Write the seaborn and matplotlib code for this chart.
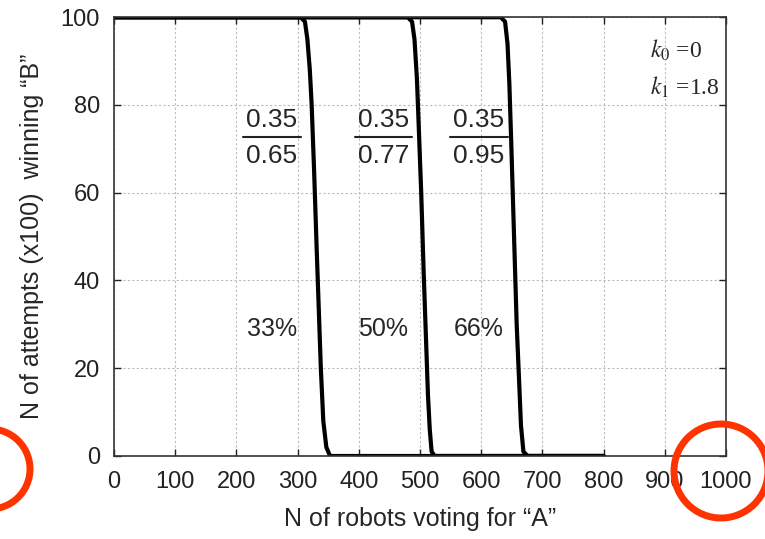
import numpy as np
import pandas as pd
import matplotlib
matplotlib.use("Agg")
import matplotlib.pyplot as plt
import seaborn as sns
from matplotlib.patches import Circle

# Curves: N of robots voting "A" vs attempts winning "B"
x_33 = [0, 305, 312, 316, 320, 323, 327, 331, 335, 338, 342, 347, 353, 800]
y_33 = [100, 100, 99, 95, 88, 80, 65, 48, 32, 20, 8, 2, 0, 0]
x_50 = [0, 480, 487, 491, 495, 498, 502, 506, 510, 513, 516, 519, 524, 800]
y_50 = [100, 100, 99, 95, 86, 75, 60, 42, 26, 14, 6, 1, 0, 0]
x_66 = [0, 632, 639, 643, 646, 649, 652, 655, 658, 662, 665, 669, 676, 800]
y_66 = [100, 100, 99, 94, 85, 72, 58, 44, 30, 17, 7, 1, 0, 0]

fractions = [("0.35", "0.65"), ("0.35", "0.77"), ("0.35", "0.95")]
percents = ["33%", "50%", "66%"]
label_x = [258, 440, 596]

rows = []
for name, xs, ys in [("33%", x_33, y_33), ("50%", x_50, y_50), ("66%", x_66, y_66)]:
    for a, b in zip(xs, ys):
        rows.append({"robots": a, "attempts": b, "ratio": name})
df = pd.DataFrame(rows)

sns.set_style("ticks")
plt.rcParams["font.family"] = ["Liberation Sans", "DejaVu Sans"]
plt.rcParams["mathtext.fontset"] = "stix"

fig = plt.figure(figsize=(7.65, 5.39), dpi=100)
ax = fig.add_axes([0.149, 0.154, 0.800, 0.814])

sns.lineplot(data=df, x="robots", y="attempts", units="ratio", estimator=None,
             color="black", lw=3, ax=ax, sort=False, legend=False)

ax.set_xlim(0, 1000)
ax.set_ylim(0, 100)
ax.set_xticks(range(0, 1001, 100))
ax.set_yticks(range(0, 101, 20))
ax.grid(True, color="#bbbbbb", lw=0.8, ls=(0, (2, 2)))
ax.tick_params(direction="in", top=True, right=True, length=5, width=1,
               labelsize=17, colors="#222222")
ax.tick_params(axis="x", pad=11)
ax.tick_params(axis="y", pad=10)
for s in ax.spines.values():
    s.set_color("#333333")
    s.set_linewidth(1.2)

ax.set_xlabel("N of robots voting for \u201cA\u201d", fontsize=18, labelpad=10)
ax.set_ylabel("N of attempts (x100)  winning \u201cB\u201d", fontsize=18, labelpad=12)

for (num, den), pct, xc in zip(fractions, percents, label_x):
    ax.text(xc, 76.5, num, ha="center", va="center", fontsize=19)
    ax.text(xc, 68.3, den, ha="center", va="center", fontsize=19)
    ax.plot([xc - 47, xc + 47], [72.8, 72.8], color="#222222", lw=1.5)
    ax.text(xc, 29, pct, ha="center", va="center", fontsize=18)

ax.text(876, 92.5, r"$k_0$ =0", ha="left", va="center", fontsize=17, family="Liberation Serif")
ax.text(876, 84, r"$k_1$ =1.8", ha="left", va="center", fontsize=17, family="Liberation Serif")

# red highlight rings
for cx, cy, r in [(-0.10, 0.70, 0.40), (7.21, 0.68, 0.47)]:
    fig.patches.append(Circle((cx, cy), r, transform=fig.dpi_scale_trans,
                              fill=False, ec="#ff3300", lw=5, clip_on=False))

fig.savefig("out.png", dpi=100)
